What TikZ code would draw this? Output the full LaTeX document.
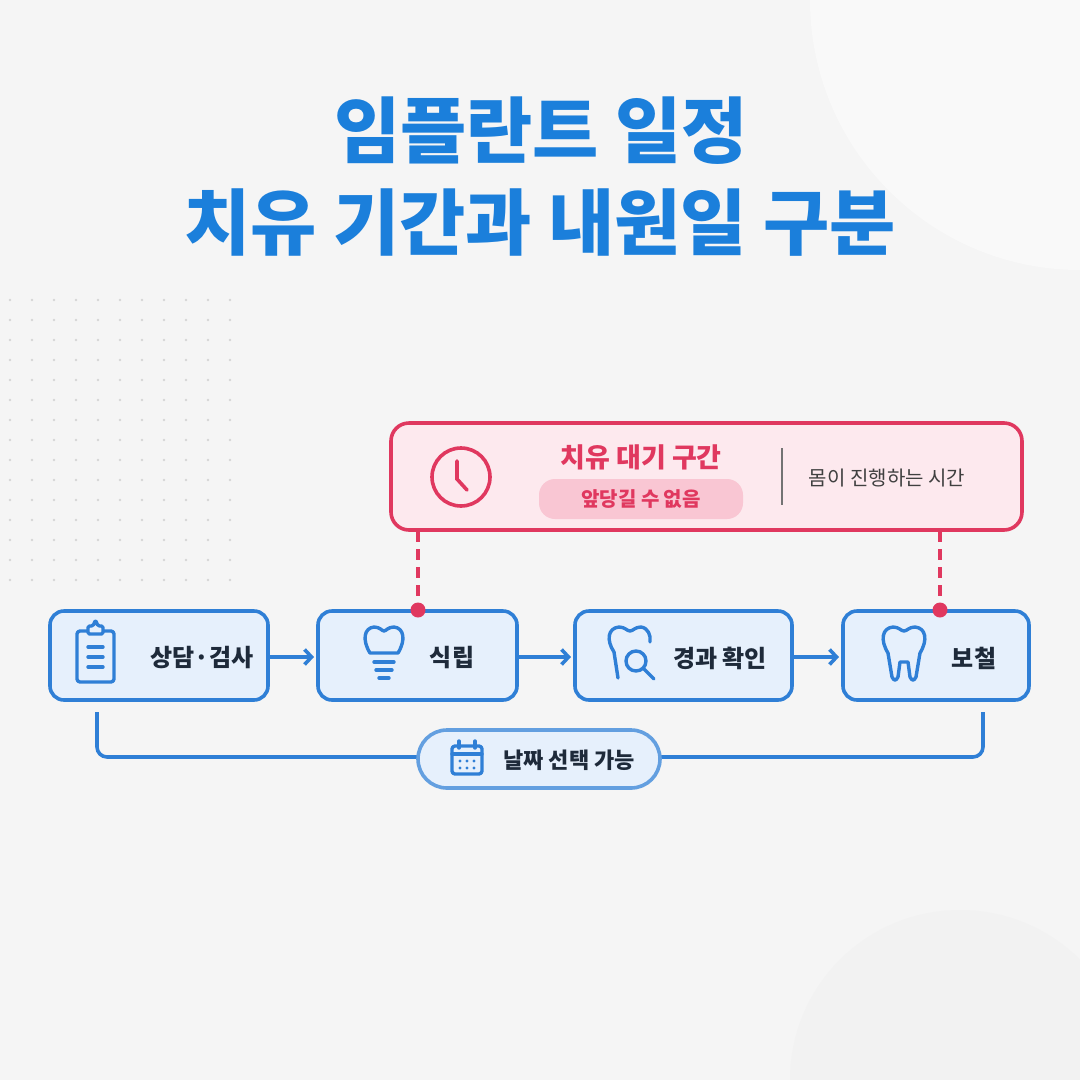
\documentclass[tikz,border=0pt]{standalone}
\usepackage{fontspec}
\setmainfont{Noto Sans CJK KR}
\usetikzlibrary{arrows.meta}
\definecolor{blu}{HTML}{1B7FDB}
\definecolor{bline}{HTML}{2F7FD6}
\definecolor{bfill}{HTML}{E6F0FC}
\definecolor{pk}{HTML}{E0385F}
\definecolor{pkfill}{HTML}{FDE9EE}
\definecolor{pkpill}{HTML}{F9C6D3}
\definecolor{ink}{HTML}{1E2A3A}
\begin{document}
\begin{tikzpicture}[x=1pt,y=-1pt,
 stepbox/.style={draw=bline,line width=3.6pt,fill=bfill,rounded corners=14pt},
 lab/.style={font=\fontsize{24}{26}\selectfont\bfseries,text=ink},
 ic/.style={draw=bline,line width=3.4pt,line cap=round,line join=round},
 arr/.style={draw=bline,line width=3.6pt,-{Straight Barb[length=7pt,width=15pt]}},
 pkdash/.style={draw=pk,line width=3.6pt,dash pattern=on 11pt off 7pt}]
\useasboundingbox (0,0) rectangle (1080,1080);
\fill[white!96!black] (0,0) rectangle (1080,1080);
\fill[white!97.5!black] (1080,0) circle (270);
\fill[white!95!black] (960,1080) circle (170);
\foreach \i in {0,...,10}{\foreach \j in {0,...,14}{\fill[black!16] (10+\i*22,300+\j*20) circle (1.3);}}
% title
\node[text=blu,font=\fontsize{72}{78}\selectfont\bfseries] (t1) at (541,131) {임플란트 일정};
\node[text=blu,font=\fontsize{72}{78}\selectfont\bfseries] (t2) at (540,223) {치유 기간과 내원일 구분};
% pink box
\draw[draw=pk,line width=3.6pt,fill=pkfill,rounded corners=18pt] (391,423) rectangle (1022,530);
\node (pk) at (706,476) {};
\draw[pk,line width=3.6pt] (461,477) circle (29);
\draw[pk,line width=3.6pt,line cap=round] (457,461) -- (457,479) -- (467,490);
\node[text=pk,font=\fontsize{27}{29}\selectfont\bfseries] (pt) at (641,457) {치유 대기 구간};
\node[fill=pkpill,rounded corners=16pt,minimum width=204pt,minimum height=40pt,text=pk,font=\fontsize{20}{22}\selectfont\bfseries] (pp) at (641,499) {앞당길 수 없음};
\draw[black!55,line width=2.5pt] (782,448) -- (782,505);
\node[text=black!75,font=\fontsize{20}{22}\selectfont] (ps) at (887,478) {몸이 진행하는 시간};
% steps
\draw[stepbox] (50,611) rectangle (268,700); \node (s1) at (159,655.5) {};
\draw[stepbox] (318,611) rectangle (517,700); \node (s2) at (417,655.5) {};
\draw[stepbox] (575,611) rectangle (792,700); \node (s3) at (683,655.5) {};
\draw[stepbox] (843,611) rectangle (1029,700); \node (s4) at (936,655.5) {};
\node[lab] at (202,658) {상담·검사};
\node[lab] at (452,658) {식립};
\node[lab] at (720,658) {경과 확인};
\node[lab] at (974,658) {보철};
\coordinate (a1) at (270,657); \coordinate (b1) at (314,657);
\coordinate (a2) at (519,657); \coordinate (b2) at (571,657);
\coordinate (a3) at (794,657); \coordinate (b3) at (839,657);
\draw[arr] (a1) -- (b1); \draw[arr] (a2) -- (b2); \draw[arr] (a3) -- (b3);
% dashes
\coordinate (d1) at (418,610); \coordinate (d2) at (940,610);
\draw[pkdash] (418,531) -- (d1); \draw[pkdash] (940,531) -- (d2);
\fill[pk] (d1) circle (7.5); \fill[pk] (d2) circle (7.5);
% icons
\draw[ic,rounded corners=3pt] (77,631) rectangle (114,682);
\draw[ic,fill=bfill,rounded corners=1.5pt] (88,634) -- (88,626) -- (93,626) -- (95.5,620) -- (98,626) -- (103,626) -- (103,634) -- cycle;
\draw[ic] (88,647) -- (103,647) (88,657) -- (103,657) (88,667) -- (103,667);
% implant
\draw[ic] (370,653) .. controls (362,640) and (364,628) .. (374,627) .. controls (380,627) and (382,631) .. (384,631) .. controls (386,631) and (388,627) .. (394,627) .. controls (404,628) and (406,640) .. (398,653) -- cycle;
\draw[ic] (374,662) -- (394,662) (376,670) -- (392,670) (379,678) -- (389,678);
% tooth + magnifier
\draw[ic] (618,678) -- (614,652) .. controls (606,640) and (608,628) .. (619,627) .. controls (625,627) and (627,631) .. (630,631) .. controls (633,631) and (635,627) .. (641,627) .. controls (648,628) and (651,635) .. (650,642);
\draw[ic] (636,661) circle (10); \draw[ic] (643,668) -- (654,679);
% tooth
\draw[ic] (888,653) .. controls (880,640) and (882,628) .. (893,627) .. controls (899,627) and (901,631) .. (904,631) .. controls (907,631) and (909,627) .. (915,627) .. controls (926,628) and (928,640) .. (920,653) -- (916,677) .. controls (914,681) and (912,681) .. (910,677) -- (908,662) -- (900,662) -- (898,677) .. controls (896,681) and (894,681) .. (892,677) -- cycle;
% bottom bracket
\coordinate (L) at (97,712); \coordinate (R) at (983,712);
\draw[draw=bline,line width=3.6pt,rounded corners=10pt] (L) -- (97,757) -- (983,757) -- (R);
\draw[draw=bline!75,line width=3.6pt,fill=bfill,rounded corners=29pt] (418,730) rectangle (660,788);
\node (pill) at (539,759) {};
\draw[ic,rounded corners=3pt] (452,746) rectangle (482,774); \draw[ic] (452,754) -- (482,754);
\draw[ic] (459,741) -- (459,748) (475,741) -- (475,748);
\foreach \x in {460,467,474}{\foreach \y in {761,768}{\fill[bline] (\x,\y) circle (1.6);}}
\node[lab,font=\fontsize{22}{24}\selectfont\bfseries] at (569,760) {날짜 선택 가능};
\end{tikzpicture}
\end{document}
